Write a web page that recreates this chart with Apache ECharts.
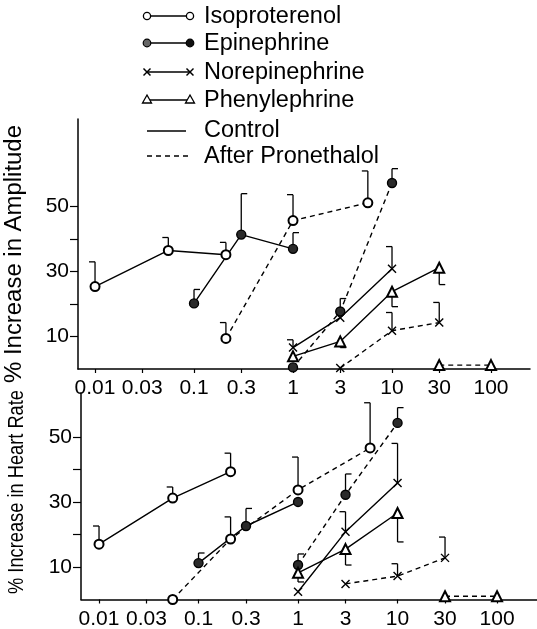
<!DOCTYPE html>
<html>
<head>
<meta charset="utf-8">
<script src="https://cdn.jsdelivr.net/npm/echarts@6/dist/echarts.min.js"></script>
<style>html,body{margin:0;padding:0;background:#fff}#c{width:537px;height:629px}</style>
</head>
<body>
<div id="c"></div>
<script>
// ---------- tick labels ----------
const doseTicks = [0.01, 0.03, 0.1, 0.3, 1, 3, 10, 30, 100];
const doseTickLabels = ['0.01', '0.03', '0.1', '0.3', '1', '3', '10', '30', '100'];
const yTicksLabeled = [10, 30, 50];
const yTicks = [10, 20, 30, 40, 50];

// ---------- legend ----------
const drugNames = ['Isoproterenol', 'Epinephrine', 'Norepinephrine', 'Phenylephrine'];
const styleNames = ['Control', 'After Pronethalol'];
const titleAmp = '% Increase in Amplitude';
const titleHR = '% Increase in Heart Rate';

// ---------- % Increase in Amplitude (upper panel) ----------
const ampIsoCtrlDose = [0.01, 0.055, 0.21];
const ampIsoCtrl     = [25.4, 36.5, 35.2];
const ampIsoCtrlErr  = [33, 40.5, 39];
const ampIsoPronDose = [0.21, 1, 5.7];
const ampIsoPron     = [9.4, 45.7, 51.2];
const ampIsoPronErr  = [14.3, 53.7, 61];

const ampEpiCtrlDose = [0.1, 0.3, 1];
const ampEpiCtrl     = [20.2, 41.4, 37];
const ampEpiCtrlErr  = [24.5, 54, 42];
const ampEpiPronDose = [1, 3, 10];
const ampEpiPron     = [0.5, 17.7, 57.3];
const ampEpiPronErr  = [null, 21.7, 61.7];

const ampNorCtrlDose = [1, 3, 10];
const ampNorCtrl     = [6.6, 15.8, 30.9];
const ampNorCtrlErr  = [9, null, 37.7];
const ampNorPronDose = [3, 10, 30];
const ampNorPron     = [0.3, 11.8, 14.3];
const ampNorPronErr  = [null, 17.4, 20.5];

const ampPheCtrlDose = [1, 3, 10, 30];
const ampPheCtrl     = [3.9, 8.5, 23.8, 31.2];
const ampPheCtrlErr  = [null, 6.6, 19.2, 26];
const ampPhePronDose = [30, 100];
const ampPhePron     = [1.2, 1.2];

// ---------- % Increase in Heart Rate (lower panel) ----------
const hrIsoCtrlDose = [0.01, 0.055, 0.21];
const hrIsoCtrl     = [17, 31.2, 39.3];
const hrIsoCtrlErr  = [22.6, 34.6, 45];
const hrIsoPronDose = [0.055, 0.21, 1, 5.3];
const hrIsoPron     = [0, 18.6, 33.7, 46.6];
const hrIsoPronErr  = [null, 25.4, 43.8, 60.5];

const hrEpiCtrlDose = [0.1, 0.3, 1];
const hrEpiCtrl     = [11.2, 22.6, 30];
const hrEpiCtrlErr  = [14.3, 28, null];
const hrEpiPronDose = [1, 3, 10];
const hrEpiPron     = [10.6, 32.2, 54.3];
const hrEpiPronErr  = [14, 38.6, 59];

const hrNorCtrlDose = [1, 3, 10];
const hrNorCtrl     = [2.4, 20.8, 35.8];
const hrNorCtrlErr  = [null, 27, 48];
const hrNorPronDose = [3, 10, 30];
const hrNorPron     = [4.8, 7.2, 12.8];
const hrNorPronErr  = [null, 11, 19.2];

const hrPheCtrlDose = [1, 3, 10];
const hrPheCtrl     = [8.2, 15.5, 26.6];
const hrPheCtrlErr  = [5.4, 10.6, 17.7];
const hrPhePronDose = [30, 100];
const hrPhePron     = [1, 1];

// ---------- styling ----------
const FONT = 'Liberation Sans';
const SYM = {
  iso: {symbol: 'emptyCircle', size: 9, color: '#000'},
  epi: {symbol: 'circle', size: 9, color: '#2a2a2a'},
  nor: {symbol: 'path://M0,0L10,10M10,0L0,10', size: 8, color: '#000'},
  phe: {symbol: 'emptyTriangle', size: 10, color: '#000'}
};
// tick direction of the error-bar cap: -1 = left, +1 = right
const CAP = {iso: -1, epi: 1, nor: -1, phe: 1};

function lineSeries(grid, name, drug, doses, vals, dashed) {
  const s = SYM[drug];
  return {
    type: 'line', name: name, xAxisIndex: grid, yAxisIndex: grid,
    data: doses.map((d, i) => [d, vals[i]]),
    symbol: s.symbol, symbolSize: s.size, showAllSymbol: true,
    itemStyle: {color: s.color, borderColor: '#000', borderWidth: 1.4},
    lineStyle: {color: '#000', width: 1.4, type: dashed ? [5, 4] : 'solid'},
    emphasis: {disabled: true}, silent: true, animation: false, z: 3
  };
}
function errData(drug, doses, vals, errs, out) {
  if (!errs) return;
  doses.forEach((d, i) => {
    if (errs[i] != null) out.push([d, vals[i], errs[i], CAP[drug]]);
  });
}
function errSeries(grid, data) {
  return {
    type: 'custom', xAxisIndex: grid, yAxisIndex: grid, data: data, z: 1,
    silent: true, animation: false,
    renderItem: function (params, api) {
      const p0 = api.coord([api.value(0), api.value(1)]);
      const p1 = api.coord([api.value(0), api.value(2)]);
      const dir = api.value(3);
      return {
        type: 'group',
        children: [
          {type: 'line', shape: {x1: p0[0], y1: p0[1], x2: p1[0], y2: p1[1]}, style: {stroke: '#000', lineWidth: 1.3}},
          {type: 'line', shape: {x1: p1[0], y1: p1[1], x2: p1[0] + dir * 6, y2: p1[1]}, style: {stroke: '#000', lineWidth: 1.3}}
        ]
      };
    }
  };
}

const ampErr = [], hrErr = [];
errData('iso', ampIsoCtrlDose, ampIsoCtrl, ampIsoCtrlErr, ampErr);
errData('iso', ampIsoPronDose, ampIsoPron, ampIsoPronErr, ampErr);
errData('epi', ampEpiCtrlDose, ampEpiCtrl, ampEpiCtrlErr, ampErr);
errData('epi', ampEpiPronDose, ampEpiPron, ampEpiPronErr, ampErr);
errData('nor', ampNorCtrlDose, ampNorCtrl, ampNorCtrlErr, ampErr);
errData('nor', ampNorPronDose, ampNorPron, ampNorPronErr, ampErr);
errData('phe', ampPheCtrlDose, ampPheCtrl, ampPheCtrlErr, ampErr);
errData('iso', hrIsoCtrlDose, hrIsoCtrl, hrIsoCtrlErr, hrErr);
errData('iso', hrIsoPronDose, hrIsoPron, hrIsoPronErr, hrErr);
errData('epi', hrEpiCtrlDose, hrEpiCtrl, hrEpiCtrlErr, hrErr);
errData('epi', hrEpiPronDose, hrEpiPron, hrEpiPronErr, hrErr);
errData('nor', hrNorCtrlDose, hrNorCtrl, hrNorCtrlErr, hrErr);
errData('nor', hrNorPronDose, hrNorPron, hrNorPronErr, hrErr);
errData('phe', hrPheCtrlDose, hrPheCtrl, hrPheCtrlErr, hrErr);

const series = [
  errSeries(0, ampErr), errSeries(1, hrErr),
  lineSeries(0, 'Isoproterenol control', 'iso', ampIsoCtrlDose, ampIsoCtrl, false),
  lineSeries(0, 'Isoproterenol pronethalol', 'iso', ampIsoPronDose, ampIsoPron, true),
  lineSeries(0, 'Epinephrine control', 'epi', ampEpiCtrlDose, ampEpiCtrl, false),
  lineSeries(0, 'Epinephrine pronethalol', 'epi', ampEpiPronDose, ampEpiPron, true),
  lineSeries(0, 'Norepinephrine control', 'nor', ampNorCtrlDose, ampNorCtrl, false),
  lineSeries(0, 'Norepinephrine pronethalol', 'nor', ampNorPronDose, ampNorPron, true),
  lineSeries(0, 'Phenylephrine control', 'phe', ampPheCtrlDose, ampPheCtrl, false),
  lineSeries(0, 'Phenylephrine pronethalol', 'phe', ampPhePronDose, ampPhePron, true),
  lineSeries(1, 'Isoproterenol control', 'iso', hrIsoCtrlDose, hrIsoCtrl, false),
  lineSeries(1, 'Isoproterenol pronethalol', 'iso', hrIsoPronDose, hrIsoPron, true),
  lineSeries(1, 'Epinephrine control', 'epi', hrEpiCtrlDose, hrEpiCtrl, false),
  lineSeries(1, 'Epinephrine pronethalol', 'epi', hrEpiPronDose, hrEpiPron, true),
  lineSeries(1, 'Norepinephrine control', 'nor', hrNorCtrlDose, hrNorCtrl, false),
  lineSeries(1, 'Norepinephrine pronethalol', 'nor', hrNorPronDose, hrNorPron, true),
  lineSeries(1, 'Phenylephrine control', 'phe', hrPheCtrlDose, hrPheCtrl, false),
  lineSeries(1, 'Phenylephrine pronethalol', 'phe', hrPhePronDose, hrPhePron, true)
];

function xAxis(grid, min, max) {
  return {
    type: 'log', logBase: 10, gridIndex: grid, min: min, max: max,
    axisLine: {lineStyle: {color: '#000', width: 1.5}},
    axisTick: {show: true, customValues: doseTicks, length: 4, lineStyle: {color: '#000', width: 1.2}},
    axisLabel: {
      customValues: doseTicks, margin: 9, color: '#000', fontSize: 21, fontFamily: FONT,
      formatter: v => { const i = doseTicks.indexOf(v); return i >= 0 ? doseTickLabels[i] : String(v); }
    },
    splitLine: {show: false}, minorTick: {show: false}
  };
}
function yAxis(grid, max) {
  return {
    type: 'value', gridIndex: grid, min: 0, max: max,
    axisLine: {show: true, lineStyle: {color: '#000', width: 1.5}},
    axisTick: {show: true, customValues: yTicks, length: 8, lineStyle: {color: '#000', width: 1.2}},
    axisLabel: {customValues: yTicksLabeled, margin: 9, color: '#000', fontSize: 21, fontFamily: FONT},
    splitLine: {show: false}
  };
}

// legend graphics
const legendGraphics = [];
const legendRows = [16, 43, 72, 100];
const lx1 = 147, lx2 = 190, tx = 204;
const LFONT = '23.5px ' + FONT;
function symGraphic(drug, x, y, left) {
  if (drug === 'iso') return {type: 'circle', shape: {cx: x, cy: y, r: 3.6}, style: {fill: '#fff', stroke: '#000', lineWidth: 1.3}, z: 10};
  if (drug === 'epi') return {type: 'circle', shape: {cx: x, cy: y, r: 3.8}, style: {fill: left ? '#666' : '#111', stroke: '#000', lineWidth: 1.2}, z: 10};
  if (drug === 'nor') return {type: 'group', z: 10, children: [
    {type: 'line', shape: {x1: x - 3.5, y1: y - 3.5, x2: x + 3.5, y2: y + 3.5}, style: {stroke: '#000', lineWidth: 1.5}},
    {type: 'line', shape: {x1: x + 3.5, y1: y - 3.5, x2: x - 3.5, y2: y + 3.5}, style: {stroke: '#000', lineWidth: 1.5}}]};
  return {type: 'polygon', shape: {points: [[x, y - 5], [x + 4.5, y + 3], [x - 4.5, y + 3]]}, style: {fill: '#fff', stroke: '#000', lineWidth: 1.3}, z: 10};
}
['iso', 'epi', 'nor', 'phe'].forEach((d, i) => {
  const y = legendRows[i];
  legendGraphics.push({type: 'line', shape: {x1: lx1, y1: y, x2: lx2, y2: y}, style: {stroke: '#000', lineWidth: 1.4}, z: 9});
  legendGraphics.push(symGraphic(d, lx1, y, true));
  legendGraphics.push(symGraphic(d, lx2, y, false));
  legendGraphics.push({type: 'text', x: tx, y: y + 1, style: {text: drugNames[i], fill: '#000', font: LFONT, textVerticalAlign: 'middle'}});
});
legendGraphics.push({type: 'line', shape: {x1: 147, y1: 131, x2: 186, y2: 131}, style: {stroke: '#000', lineWidth: 1.4}});
legendGraphics.push({type: 'text', x: tx, y: 131, style: {text: styleNames[0], fill: '#000', font: LFONT, textVerticalAlign: 'middle'}});
legendGraphics.push({type: 'line', shape: {x1: 147, y1: 156, x2: 188, y2: 156}, style: {stroke: '#000', lineWidth: 1.4, lineDash: [5, 4]}});
legendGraphics.push({type: 'text', x: tx, y: 157, style: {text: styleNames[1], fill: '#000', font: LFONT, textVerticalAlign: 'middle'}});
legendGraphics.push({type: 'text', x: 15, y: 254, rotation: Math.PI / 2, scaleX: 1.04,
  style: {text: titleAmp, fill: '#000', font: '23px ' + FONT, textAlign: 'center', textVerticalAlign: 'middle'}});
legendGraphics.push({type: 'text', x: 17, y: 492, rotation: Math.PI / 2, scaleX: 0.83,
  style: {text: titleHR, fill: '#000', font: '22px ' + FONT, textAlign: 'center', textVerticalAlign: 'middle'}});

const chart = echarts.init(document.getElementById('c'), null, {renderer: 'canvas'});
chart.setOption({
  animation: false,
  backgroundColor: '#fff',
  grid: [
    {left: 78, right: 7, top: 119, bottom: 260, containLabel: false, outerBoundsMode: 'none'},
    {left: 81, right: 0, top: 393, bottom: 29.5, containLabel: false, outerBoundsMode: 'none'}
  ],
  xAxis: [xAxis(0, 0.00673, 247.7), xAxis(1, 0.00659, 252)],
  yAxis: [yAxis(0, 77), yAxis(1, 63.5)],
  series: series,
  graphic: legendGraphics
});
</script>
</body>
</html>
